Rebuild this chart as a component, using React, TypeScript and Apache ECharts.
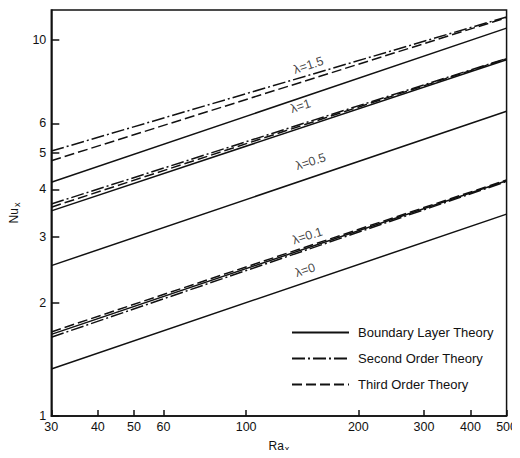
import React, { useEffect, useRef } from "react";
import * as echarts from "echarts";

// Ra_x endpoints of every straight (log-log) line
const raEnds = [30, 500];

// Nu_x at Ra_x = 30 and 500, per lambda
const boundaryLayer: Record<string, number[]> = {
  "0": [1.334, 3.44],
  "0.1": [1.648, 4.22],
  "0.5": [2.51, 6.46],
  "1": [3.51, 8.85],
  "1.5": [4.18, 10.74],
};
const secondOrder: Record<string, number[]> = {
  "0.1": [1.62, 4.2],
  "1": [3.66, 8.92],
  "1.5": [5.06, 11.5],
};
const thirdOrder: Record<string, number[]> = {
  "0.1": [1.673, 4.24],
  "1": [3.59, 8.9],
  "1.5": [4.77, 11.45],
};

const lambdaLabels = ["λ=1.5", "λ=1", "λ=0.5", "λ=0.1", "λ=0"];
const lambdaLabelPos = [
  [147, 8.55],
  [140, 6.66],
  [149, 4.74],
  [146, 3.01],
  [144, 2.44],
];

const xTicks = [30, 40, 50, 60, 100, 200, 300, 400, 500];
const yTicks = [1, 2, 3, 4, 5, 6, 10];

const theoryNames = ["Boundary Layer Theory", "Second Order Theory", "Third Order Theory"];

const FONT = "Liberation Sans";
const INK = "#111111";

export default function App() {
  const ref = useRef<HTMLDivElement>(null);
  useEffect(() => {
    if (!ref.current) return;
    const chart = echarts.init(ref.current, null, { renderer: "svg" });

    const makeSeries = (name: string, table: Record<string, number[]>, type: any) =>
      Object.keys(table).map((k) => ({
        name,
        type: "line",
        symbol: "none",
        silent: true,
        itemStyle: { color: INK },
        lineStyle: { color: INK, width: 1.5, type },
        data: raEnds.map((r, i) => [r, table[k][i]]),
      }));

    const series: any[] = [
      ...makeSeries(theoryNames[0], boundaryLayer, "solid"),
      ...makeSeries(theoryNames[1], secondOrder, [13, 3, 2, 3]),
      ...makeSeries(theoryNames[2], thirdOrder, [10, 4]),
      {
        name: "labels",
        type: "scatter",
        symbolSize: 0,
        silent: true,
        itemStyle: { color: "transparent" },
        data: lambdaLabelPos.map((p, i) => ({ value: p, name: lambdaLabels[i] })),
        label: {
          show: true,
          position: "inside",
          formatter: (p: any) => p.name,
          rotate: 18,
          color: INK,
          textBorderWidth: 0,
          fontFamily: FONT,
          fontSize: 12.5,
        },
      },
    ];

    chart.setOption({
      animation: false,
      backgroundColor: "#fff",
      grid: {
        left: 41,
        right: 13,
        top: 10,
        bottom: 40,
        show: true,
        borderColor: INK,
        borderWidth: 1.5,
      },
      legend: {
        data: theoryNames,
        orient: "vertical",
        left: 291,
        top: 326,
        padding: 0,
        itemWidth: 57,
        itemHeight: 12,
        itemGap: 13,
        itemStyle: { opacity: 0 },
        textStyle: { color: INK, fontFamily: FONT, fontSize: 13, padding: [0, 0, 0, 4] },
        selectedMode: false,
      },
      xAxis: {
        type: "log",
        logBase: 10,
        min: 30,
        max: 500,
        name: "Ra{s|x}",
        nameLocation: "middle",
        nameGap: 22,
        nameTextStyle: {
          color: INK,
          fontFamily: FONT,
          fontSize: 12,
          rich: { s: { fontSize: 9, verticalAlign: "bottom", padding: [6, 0, 0, 1], color: INK } },
        },
        splitLine: { show: false },
        axisLine: { lineStyle: { color: INK, width: 1.5 } },
        axisTick: { inside: true, length: 6, lineStyle: { color: INK, width: 1.5 }, customValues: xTicks },
        minorTick: { show: false },
        axisLabel: { color: INK, fontFamily: FONT, fontSize: 12.5, margin: 4, customValues: xTicks },
      },
      yAxis: {
        type: "log",
        logBase: 10,
        min: 1,
        max: 12,
        name: "Nu{s|x}",
        nameLocation: "middle",
        nameGap: 24,
        nameTextStyle: {
          color: INK,
          fontFamily: FONT,
          fontSize: 12,
          rich: { s: { fontSize: 9, verticalAlign: "bottom", padding: [6, 0, 0, 1], color: INK } },
        },
        splitLine: { show: false },
        axisLine: { lineStyle: { color: INK, width: 1.5 } },
        axisTick: { inside: true, length: 8, lineStyle: { color: INK, width: 1.5 }, customValues: yTicks },
        minorTick: { show: false },
        axisLabel: { color: INK, fontFamily: FONT, fontSize: 12.5, margin: 5, customValues: yTicks },
      },
      series,
    });
    return () => chart.dispose();
  }, []);
  return <div ref={ref} style={{ width: 520, height: 458, margin: -8 }} />;
}
